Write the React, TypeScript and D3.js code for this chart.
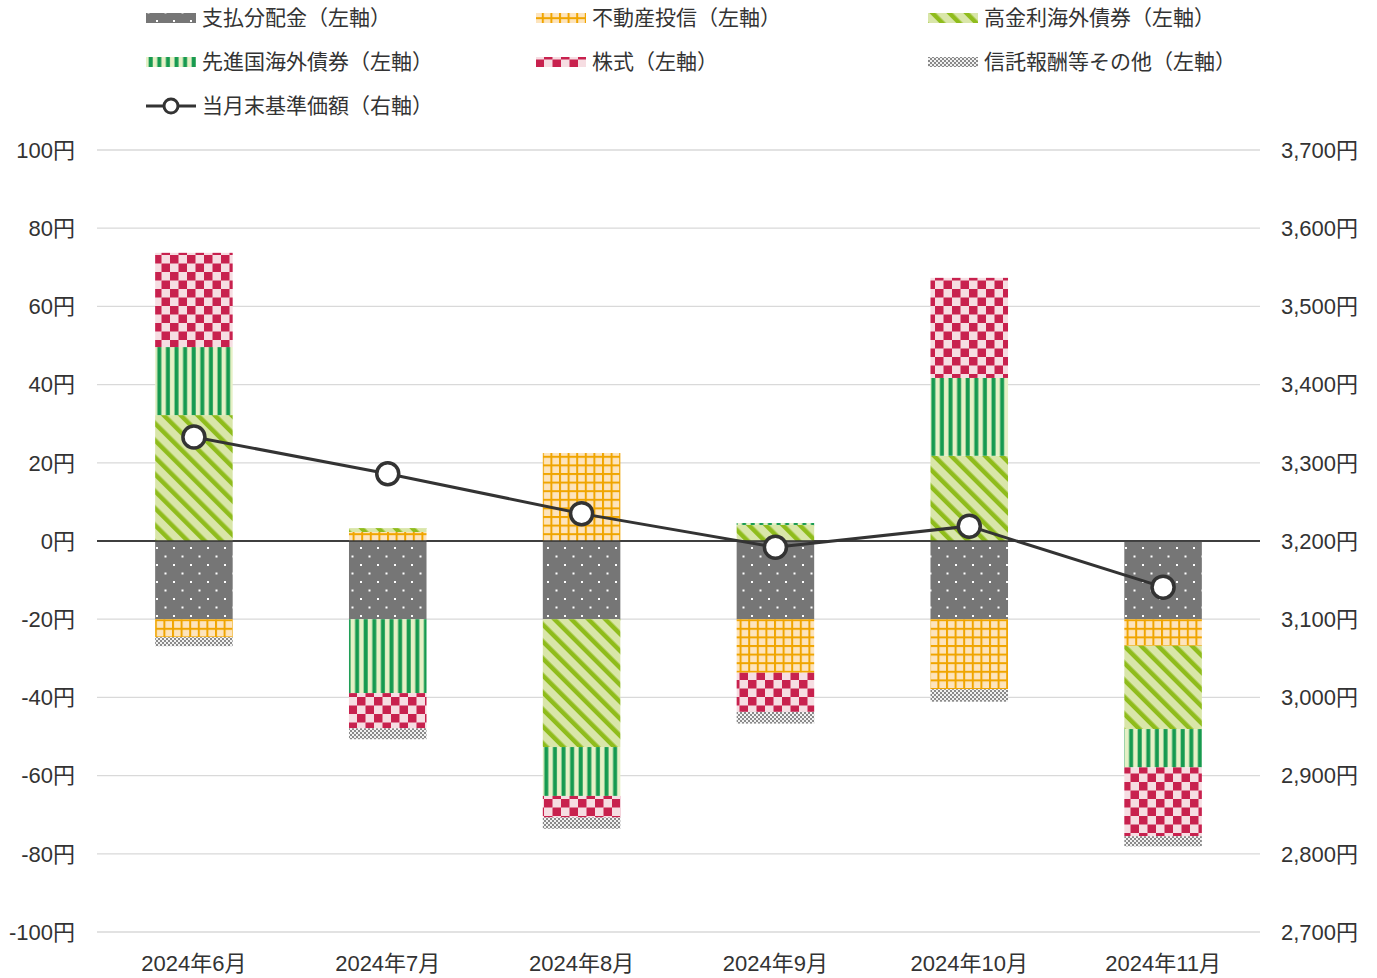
import React from "react";
import * as d3 from "d3";

// 分配金の要因分解（円）と当月末基準価額（円）
const months = ["2024年6月", "2024年7月", "2024年8月", "2024年9月", "2024年10月", "2024年11月"];
const seriesNames = ["支払分配金", "不動産投信", "高金利海外債券", "先進国海外債券", "株式", "信託報酬等その他"];
const dividend = [-20, -20, -20, -20, -20, -20];
const reit = [-4.6, 2.3, 22.5, -13.7, -17.9, -6.8];
const highYield = [32.2, 1.0, -32.7, 4.1, 21.8, -21.3];
const developed = [17.4, -18.9, -12.5, 0.5, 19.9, -9.8];
const stocks = [24.1, -9.0, -5.5, -10.0, 25.6, -17.6];
const other = [-2.3, -2.8, -2.9, -3.0, -3.2, -2.6];
const nav = [3333, 3286, 3235, 3192, 3219, 3141];
const leftTicks = [100, 80, 60, 40, 20, 0, -20, -40, -60, -80, -100];
const rightTicks = [3700, 3600, 3500, 3400, 3300, 3200, 3100, 3000, 2900, 2800, 2700];

const W = 1377, H = 978;
const NUM_FONT = "'Liberation Sans', 'Noto Sans CJK JP', sans-serif";
const JP_FONT = "'Noto Sans CJK JP', sans-serif";
const patternIds = ["pDiv", "pReit", "pHy", "pDev", "pStk", "pOth"];

const App = () => {
  const x = d3.scaleBand<string>().domain(months).range([97, 1260]).paddingInner(0.6).paddingOuter(0.3);
  const yL = d3.scaleLinear().domain([-100, 100]).range([932, 150]);
  const yR = d3.scaleLinear().domain([2700, 3700]).range([932, 150]);

  const rows = months.map((m, i) => ({
    month: m,
    s0: dividend[i], s1: reit[i], s2: highYield[i], s3: developed[i], s4: stocks[i], s5: other[i],
  }));
  const keys = ["s0", "s1", "s2", "s3", "s4", "s5"];
  const stacked = d3.stack<any>().keys(keys).offset(d3.stackOffsetDiverging)(rows);

  const line = d3.line<number>()
    .x((_, i) => (x(months[i]) as number) + x.bandwidth() / 2)
    .y(d => yR(d));

  const legendItems = [
    { label: seriesNames[0] + "（左軸）", pat: 0, x: 146, y: 18 },
    { label: seriesNames[1] + "（左軸）", pat: 1, x: 536, y: 18 },
    { label: seriesNames[2] + "（左軸）", pat: 2, x: 928, y: 18 },
    { label: seriesNames[3] + "（左軸）", pat: 3, x: 146, y: 62 },
    { label: seriesNames[4] + "（左軸）", pat: 4, x: 536, y: 62 },
    { label: seriesNames[5] + "（左軸）", pat: 5, x: 928, y: 62 },
  ];

  return (
    <svg width={W} height={H} style={{ position: "absolute", left: 0, top: 0 }} fontFamily={NUM_FONT}>
      <defs>
        <pattern id="pDiv" patternUnits="userSpaceOnUse" width={17} height={17}>
          <rect width={17} height={17} fill="#767676" />
          <rect x={3} y={3} width={2} height={2} fill="#fff" />
          <rect x={11.5} y={11.5} width={2} height={2} fill="#fff" />
        </pattern>
        <pattern id="pReit" patternUnits="userSpaceOnUse" width={8.6} height={8.6}>
          <rect width={8.6} height={8.6} fill="#fde4bd" />
          <rect x={0} y={0} width={2} height={8.6} fill="#f0a500" />
          <rect x={0} y={0} width={8.6} height={2} fill="#f0a500" />
        </pattern>
        <pattern id="pHy" patternUnits="userSpaceOnUse" width={12} height={12} patternTransform="rotate(-45)">
          <rect width={12} height={12} fill="#d9e6a9" />
          <rect x={0} y={0} width={4.5} height={12} fill="#8fbc1c" />
        </pattern>
        <pattern id="pDev" patternUnits="userSpaceOnUse" width={8.6} height={8.6}>
          <rect width={8.6} height={8.6} fill="#e6f0c6" />
          <rect x={2.5} y={0} width={4} height={8.6} fill="#169a50" />
        </pattern>
        <pattern id="pStk" patternUnits="userSpaceOnUse" width={17} height={17}>
          <rect width={17} height={17} fill="#f6dde2" />
          <rect x={0} y={0} width={8.5} height={8.5} fill="#c8214e" />
          <rect x={8.5} y={8.5} width={8.5} height={8.5} fill="#c8214e" />
        </pattern>
        <pattern id="pOth" patternUnits="userSpaceOnUse" width={4} height={4}>
          <rect width={4} height={4} fill="#f2f2f2" />
          <rect x={0} y={0} width={2} height={2} fill="#8a8a8a" />
          <rect x={2} y={2} width={2} height={2} fill="#8a8a8a" />
        </pattern>
      </defs>

      {/* grid */}
      {leftTicks.map(t => (
        <line key={t} x1={97} x2={1260} y1={yL(t)} y2={yL(t)}
          stroke={t === 0 ? "#333" : "#d9d9d9"} strokeWidth={1.3} />
      ))}

      {/* left axis labels */}
      {leftTicks.map(t => (
        <text key={"l" + t} x={75} y={yL(t)} dy="0.35em" textAnchor="end" fontSize={22} fill="#333">{t}円</text>
      ))}
      {/* right axis labels */}
      {rightTicks.map(t => (
        <text key={"r" + t} x={1281} y={yR(t)} dy="0.35em" textAnchor="start" fontSize={22} fill="#333">
          {d3.format(",")(t)}円
        </text>
      ))}

      {/* bars */}
      {stacked.map((layer, si) => (
        <g key={si} fill={`url(#${patternIds[si]})`}>
          {layer.map((d, i) => (
            <rect key={i} x={x(months[i])} width={x.bandwidth()}
              y={yL(Math.max(d[0], d[1]))} height={Math.abs(yL(d[0]) - yL(d[1]))} />
          ))}
        </g>
      ))}

      {/* zero line above bars */}
      <line x1={97} x2={1260} y1={yL(0)} y2={yL(0)} stroke="#333" strokeWidth={1.3} />

      {/* NAV line */}
      <path d={line(nav) as string} fill="none" stroke="#333" strokeWidth={3} />
      {nav.map((v, i) => (
        <circle key={i} cx={(x(months[i]) as number) + x.bandwidth() / 2} cy={yR(v)} r={11}
          fill="#fff" stroke="#333" strokeWidth={3.5} />
      ))}

      {/* x labels */}
      {months.map(m => (
        <text key={m} x={(x(m) as number) + x.bandwidth() / 2} y={963} dy="0.35em" textAnchor="middle" fontSize={22} fill="#333">{m}</text>
      ))}

      {/* legend */}
      <g fontFamily={JP_FONT}>
        {legendItems.map(it => (
          <g key={it.label}>
            <rect x={it.x} y={it.y - 5} width={50} height={10} fill={`url(#${patternIds[it.pat]})`} />
            <text x={it.x + 56} y={it.y} dy="0.35em" fontSize={21} fill="#333">{it.label}</text>
          </g>
        ))}
        <line x1={146} x2={196} y1={106} y2={106} stroke="#333" strokeWidth={3} />
        <circle cx={171} cy={106} r={7} fill="#fff" stroke="#333" strokeWidth={3} />
        <text x={202} y={106} dy="0.35em" fontSize={21} fill="#333">当月末基準価額（右軸）</text>
      </g>
    </svg>
  );
};

export default App;
